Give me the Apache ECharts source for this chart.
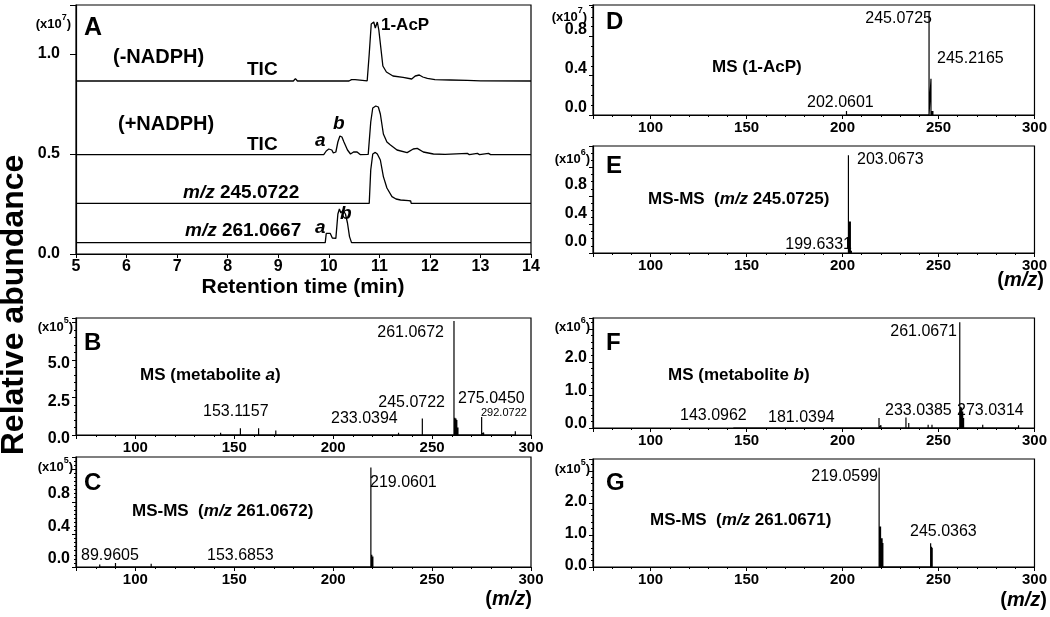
<!DOCTYPE html>
<html><head><meta charset="utf-8">
<script src="https://cdn.jsdelivr.net/npm/echarts@6/dist/echarts.min.js"></script>
<style>html,body{margin:0;padding:0;background:#fff}#c{width:1050px;height:617px}</style>
</head><body><div id="c"></div>
<script>
// ---------- Panel A: chromatograms [retention time (min), abundance (x10^7)] ----------
const ticMinusNADPH = [[5,0.865],[9.3,0.865],[9.34,0.877],[9.38,0.865],[10.0,0.865],[10.03,0.872],[10.06,0.865],[10.4,0.865],[10.45,0.872],[10.52,0.872],[10.55,0.865],[10.76,0.866],[10.8,1.0],[10.84,1.15],[10.89,1.16],[10.92,1.13],[10.96,1.16],[10.99,1.12],[11.03,1.03],[11.07,0.94],[11.14,0.91],[11.27,0.89],[11.47,0.883],[11.64,0.875],[11.71,0.89],[11.79,0.895],[11.86,0.885],[11.95,0.878],[12.1,0.872],[12.4,0.87],[12.74,0.868],[13.0,0.866],[14,0.865]];
const ticPlusNADPH = [[5,0.497],[9.9,0.497],[9.95,0.515],[10.0,0.525],[10.06,0.52],[10.09,0.505],[10.14,0.51],[10.18,0.56],[10.22,0.59],[10.26,0.585],[10.3,0.56],[10.37,0.52],[10.43,0.5],[10.49,0.51],[10.56,0.51],[10.62,0.497],[10.78,0.498],[10.83,0.66],[10.87,0.73],[10.93,0.74],[10.98,0.735],[11.02,0.70],[11.08,0.6],[11.15,0.56],[11.22,0.545],[11.35,0.52],[11.55,0.507],[11.67,0.525],[11.75,0.528],[11.87,0.51],[12.07,0.5],[12.3,0.498],[12.74,0.503],[12.78,0.497],[12.94,0.503],[12.98,0.497],[13.16,0.503],[13.2,0.497],[14,0.497]];
const mz245Trace = [[5,0.253],[10.8,0.253],[10.83,0.42],[10.87,0.5],[10.92,0.508],[10.96,0.5],[11.02,0.47],[11.08,0.387],[11.15,0.33],[11.25,0.287],[11.33,0.275],[11.42,0.27],[11.58,0.267],[11.62,0.265],[11.63,0.253],[14,0.253]];
const mz261Trace = [[5,0.057],[9.93,0.057],[9.95,0.103],[10.03,0.103],[10.07,0.08],[10.14,0.078],[10.18,0.2],[10.21,0.225],[10.24,0.205],[10.28,0.22],[10.33,0.2],[10.37,0.155],[10.41,0.087],[10.45,0.057],[14,0.057]];

// ---------- Spectra: [m/z, intensity] ----------
const peaksB = [[143.1,0.15],[153.1,0.45],[162.3,0.45],[171,0.3],[182,0.08],[196,0.06],[217.5,0.12],[221,0.1],[229,0.08],[233.04,0.15],[239,0.1],[245.07,1.1],[261.07,7.6],[261.5,1.15],[262.07,1.1],[262.5,1.0],[263.07,0.5],[275.05,1.2],[276.05,0.15],[292.07,0.25]];
const peaksC = [[82,0.03],[89.96,0.05],[108,0.04],[153.69,0.015],[219.06,1.22],[219.5,0.15],[220.06,0.13]];
const peaksD = [[202.06,0.04],[203.06,0.02],[245.07,1.05],[246.07,0.37],[246.6,0.04],[247.07,0.04]];
const peaksE = [[203.07,1.37],[203.5,0.44],[204.07,0.44],[204.6,0.03]];
const peaksF = [[143.1,0.05],[181.04,0.03],[219,0.3],[220,0.08],[223,0.05],[233.04,0.32],[234.5,0.15],[238,0.05],[244.6,0.1],[246.6,0.1],[261.07,3.2],[261.5,0.64],[262.07,0.62],[262.6,0.5],[263.07,0.3],[273.03,0.1],[276,0.05],[291.7,0.08]];
const peaksG = [[219.06,3.1],[219.4,1.26],[219.8,1.26],[220.2,0.9],[220.6,0.9],[221,0.75],[245.9,0.74],[246.3,0.63],[246.7,0.6]];

// tick label sets
const timeTicks = [5,6,7,8,9,10,11,12,13,14];
const mzRange = [70, 300];

const FF = 'Liberation Sans';
const chart = echarts.init(document.getElementById('c'), null, {renderer:'canvas'});

function sticks(p){ const d=[]; p.forEach(([m,h])=>{ d.push([m,0],[m,h],[m,0]); }); return d; }
function yFmt(step, showMax){ return v => { const k=v/step; return (Math.abs(k-Math.round(k))<1e-6 && v<=showMax+1e-9) ? v.toFixed(1) : ''; }; }

const grids = [
  {left:76, top:5, width:455, height:249},   // A
  {left:76, top:318, width:455, height:117}, // B
  {left:76, top:457, width:455, height:110}, // C
  {left:593, top:5, width:450, height:110},  // D
  {left:593, top:146, width:450, height:107},// E
  {left:593, top:318, width:450, height:110},// F
  {left:593, top:459, width:450, height:108} // G
].map(g=>Object.assign({show:true, borderColor:'#000', borderWidth:1.2, backgroundColor:'#fff'}, g));

const axLine = {show:true, lineStyle:{color:'#000', width:1.2}};
const xAxes = [], yAxes = [];
// A
xAxes.push({gridIndex:0, type:'value', min:timeTicks[0], max:timeTicks[timeTicks.length-1], interval:1,
  axisLine:axLine, axisTick:{show:true, length:4, lineStyle:{color:'#000'}}, splitLine:{show:false},
  axisLabel:{color:'#000', fontFamily:FF, fontWeight:'bold', fontSize:16, margin:5}});
yAxes.push({gridIndex:0, type:'value', min:0, max:1.245, interval:0.5,
  axisLine:axLine, axisTick:{show:true, length:6, lineStyle:{color:'#000'}}, splitLine:{show:false},
  axisLabel:{color:'#000', fontFamily:FF, fontWeight:'bold', fontSize:16, margin:16, formatter:yFmt(0.5,1.0)}});
// spectra: B..G   (shift = how far the tick label sits above its tick, px)
const spec = [
  {max:7.8, step:2.5, showMax:5.0, minor:5, shift:-4},
  {max:1.35, step:0.4, showMax:0.8, minor:8, shift:8},
  {max:1.12, step:0.4, showMax:0.8, minor:4, shift:7},
  {max:1.5, step:0.4, showMax:0.8, minor:4, shift:11},
  {max:3.33, step:1.0, showMax:2.0, minor:5, shift:4},
  {max:3.37, step:1.0, showMax:2.0, minor:5, shift:1}
];
spec.forEach((s,i)=>{
  const gi=i+1;
  xAxes.push({gridIndex:gi, type:'value', min:mzRange[0], max:mzRange[1], splitNumber:5,
    axisLine:axLine, axisTick:{show:true, length:4, lineStyle:{color:'#000'}},
    minorTick:{show:true, splitNumber:5, length:2, lineStyle:{color:'#000'}}, splitLine:{show:false}, minorSplitLine:{show:false},
    axisLabel:{showMinLabel:false, color:'#000', fontFamily:FF, fontWeight:'bold', fontSize:15, margin:5}});
  yAxes.push({gridIndex:gi, type:'value', min:0, max:s.max, interval:s.step,
    axisLine:axLine, axisTick:{show:true, length:4, lineStyle:{color:'#000'}},
    minorTick:{show:true, splitNumber:s.minor, length:2, lineStyle:{color:'#000'}}, splitLine:{show:false}, minorSplitLine:{show:false},
    axisLabel:{color:'#000', fontFamily:FF, fontWeight:'bold', fontSize:16, margin:6, formatter:yFmt(s.step,s.showMax),
      verticalAlign: s.shift>=0 ? 'bottom' : 'top', lineHeight: Math.max(1, 2*Math.abs(s.shift))}});
});

const lineS = (gi, data, w) => ({type:'line', xAxisIndex:gi, yAxisIndex:gi, data, showSymbol:false, symbol:'none',
  lineStyle:{color:'#000', width:w}, animation:false, silent:true});
const series = [
  lineS(0, ticMinusNADPH, 1.3), lineS(0, ticPlusNADPH, 1.3), lineS(0, mz245Trace, 1.3), lineS(0, mz261Trace, 1.3),
  lineS(1, sticks(peaksB), 1.2), lineS(2, sticks(peaksC), 1.2), lineS(3, sticks(peaksD), 1.2),
  lineS(4, sticks(peaksE), 1.2), lineS(5, sticks(peaksF), 1.2), lineS(6, sticks(peaksG), 1.2)
];

// ---------- text ----------
function T(x,y,text,size,opt){ opt=opt||{};
  return {type:'text', x, y, silent:true, rotation:opt.rot||0, style:{text, fill:'#000', fontFamily:FF,
    fontSize:size, fontWeight:opt.w||'normal', fontStyle:opt.i?'italic':'normal', align:opt.a||'left', verticalAlign:'middle'}};
}
function R(x,y,text,size,opt){ opt=opt||{};
  return {type:'text', x, y, silent:true, style:{text, fill:'#000', align:opt.a||'left', verticalAlign:'middle',
    rich:{b:{fontFamily:FF,fontSize:size,fontWeight:'bold'}, bi:{fontFamily:FF,fontSize:size,fontWeight:'bold',fontStyle:'italic'},
          n:{fontFamily:FF,fontSize:size,fontWeight:'bold',verticalAlign:'bottom',lineHeight:size+4},
          s:{fontFamily:FF,fontSize:Math.round(size*0.72),fontWeight:'bold',verticalAlign:'top',lineHeight:size+4}}}};
}
const exp = (x,y,e)=>R(x,y,'{n|(x10}{s|'+e+'}{n|)}',13,{a:'right'});
const B='bold';
const graphic = [
  T(14,305,'Relative abundance',32,{w:B,a:'center',rot:Math.PI/2}),
  // A
  exp(71,22,'7'), T(84,28,'A',25,{w:B}),
  T(113,57,'(-NADPH)',20,{w:B}), T(247,70,'TIC',19,{w:B}), T(381,25,'1-AcP',17,{w:B}),
  T(118,124,'(+NADPH)',20,{w:B}), T(333,124,'b',19,{w:B,i:true}), T(315,141,'a',19,{w:B,i:true}),
  T(247,145,'TIC',19,{w:B}),
  R(183,193,'{bi|m/z}{b| 245.0722}',19), R(185,231,'{bi|m/z}{b| 261.0667}',19),
  T(315,228,'a',19,{w:B,i:true}), T(340,214,'b',19,{w:B,i:true}),
  T(303,287,'Retention time (min)',21,{w:B,a:'center'}),
  // B
  exp(73,325,'5'), T(84,343,'B',24,{w:B}),
  R(140,375,'{b|MS (metabolite }{bi|a}{b|)}',17),
  T(444,333,'261.0672',16,{a:'right'}), T(445,403,'245.0722',16,{a:'right'}),
  T(458,399,'275.0450',16), T(481,413,'292.0722',11),
  T(203,412,'153.1157',16), T(331,419,'233.0394',16),
  // C
  exp(73,465,'5'), T(84,483,'C',24,{w:B}),
  R(132,511,'{b|MS-MS  (}{bi|m/z}{b| 261.0672)}',17),
  T(370,483,'219.0601',16), T(81,556,'89.9605',16), T(207,556,'153.6853',16),
  R(532,599,'{b|(}{bi|m/z}{b|)}',20,{a:'right'}),
  // D
  exp(587,15,'7'), T(606,22,'D',24,{w:B}),
  T(932,19,'245.0725',16,{a:'right'}), T(937,59,'245.2165',16),
  R(712,67,'{b|MS (1-AcP)}',17), T(807,103,'202.0601',16),
  // E
  exp(590,157,'6'), T(606,166,'E',24,{w:B}),
  T(857,160,'203.0673',16), R(648,199,'{b|MS-MS  (}{bi|m/z}{b| 245.0725)}',17),
  T(852,245,'199.6331',16,{a:'right'}),
  R(1044,280,'{b|(}{bi|m/z}{b|)}',20,{a:'right'}),
  // F
  exp(590,325,'6'), T(606,343,'F',24,{w:B}),
  T(957,332,'261.0671',16,{a:'right'}), R(668,375,'{b|MS (metabolite }{bi|b}{b|)}',17),
  T(680,416,'143.0962',16), T(768,418,'181.0394',16), T(885,411,'233.0385',16), T(957,411,'273.0314',16),
  // G
  exp(590,467,'5'), T(606,483,'G',24,{w:B}),
  T(878,477,'219.0599',16,{a:'right'}), R(650,520,'{b|MS-MS  (}{bi|m/z}{b| 261.0671)}',17),
  T(910,532,'245.0363',16),
  R(1047,600,'{b|(}{bi|m/z}{b|)}',20,{a:'right'})
];

chart.setOption({animation:false, backgroundColor:'#fff', grid:grids, xAxis:xAxes, yAxis:yAxes, series, graphic});
</script></body></html>
